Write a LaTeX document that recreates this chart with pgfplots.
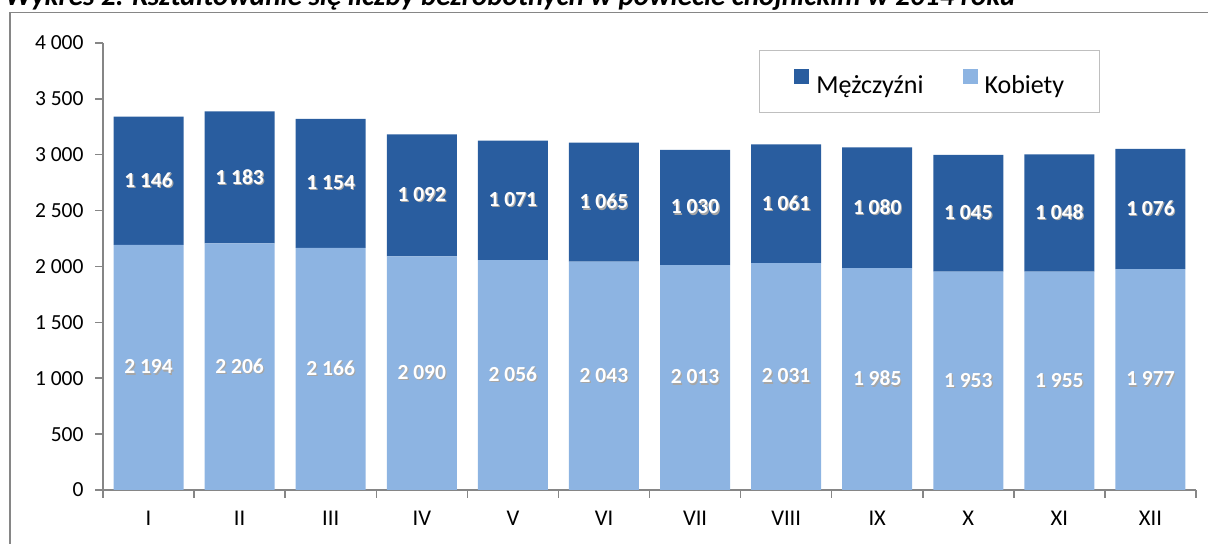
\documentclass[border=0pt]{standalone}
\usepackage{pgfplots}
\pgfplotsset{compat=1.18}
\usepackage{pgfplotstable}
\usepackage{fontspec}
\setmainfont{Carlito}
\definecolor{dblue}{RGB}{41,93,159}
\definecolor{lblue}{RGB}{141,180,226}
\definecolor{axgray}{RGB}{134,134,134}
\definecolor{leggray}{RGB}{191,191,191}
\pgfplotstableread{
x k m
0 2194 1146
1 2206 1183
2 2166 1154
3 2090 1092
4 2056 1071
5 2043 1065
6 2013 1030
7 2031 1061
8 1985 1080
9 1953 1045
10 1955 1048
11 1977 1076
}\data
\newcommand{\lbl}[1]{\pgfmathprintnumber[assume math mode=true,1000 sep={\hspace{0.226em}}]{#1}}
\newcommand{\shlbl}[1]{\rlap{\hspace{1.2bp}\raisebox{-1.2bp}{\color{black!35}\lbl{#1}}}\lbl{#1}}
\begin{document}
\begin{tikzpicture}[x=1bp,y=1bp]
\path[use as bounding box] (0,0) rectangle (1208,544);
\clip (0,0) rectangle (1208,544);
\draw[axgray, line width=1.5bp] (10,-10) -- (10,531.5) -- (1220,531.5);
\node[anchor=base west, inner sep=0pt] at (5,538) {\resizebox{1010bp}{!}{\bfseries\itshape Wykres 2. Kształtowanie się liczby bezrobotnych w powiecie chojnickim w 2014 roku}};
\begin{axis}[
  at={(103bp,54bp)}, anchor=south west,
  scale only axis, width=1093bp, height=447bp,
  xmin=-0.5, xmax=11.5, ymin=0, ymax=4000,
  axis x line*=bottom, axis y line*=left,
  axis line style={draw=axgray, line width=1.5bp},
  tick style={draw=axgray, line width=1.5bp},
  tick align=outside, major tick length=8bp,
  ytick={0,500,...,4000},
  xtick={-0.5,0.5,...,11.5},
  x tick label as interval,
  xticklabels={I,II,III,IV,V,VI,VII,VIII,IX,X,XI,XII},
  x tick label style={font=\fontsize{22.5bp}{26bp}\selectfont, text=black, yshift=-10bp},
  y tick label style={font=\fontsize{21.5bp}{24bp}\selectfont, text=black, xshift=-8bp,
     /pgf/number format/.cd, assume math mode=true, 1000 sep={\hspace{0.226em}}},
  ybar stacked, bar width=70bp,
  legend columns=2, reverse legend,
  legend image code/.code={\fill[#1] (0bp,1bp) rectangle (15bp,16bp);},
  legend style={at={(0.912,0.984)}, anchor=north east, draw=leggray, line width=1.3bp,
     inner xsep=35bp, inner ysep=18bp, font=\fontsize{26bp}{30bp}\selectfont,
     nodes={inner sep=0pt},
     /tikz/every even column/.append style={column sep=39bp},
     /tikz/every odd column/.append style={column sep=7bp}},
  nodes near coords={\shlbl{\pgfplotspointmeta}},
  point meta=explicit,
  every node near coord/.append style={anchor=center, text=white,
     font=\fontsize{21.5bp}{24bp}\selectfont\bfseries},
]
\addplot[fill=lblue, draw=none]
  table[x=x, y=k, meta=k] {\data};
\addlegendentry{Kobiety}
\addplot[fill=dblue, draw=none]
  table[x=x, y=m, meta=m] {\data};
\addlegendentry{Mężczyźni}
\end{axis}
\end{tikzpicture}
\end{document}
